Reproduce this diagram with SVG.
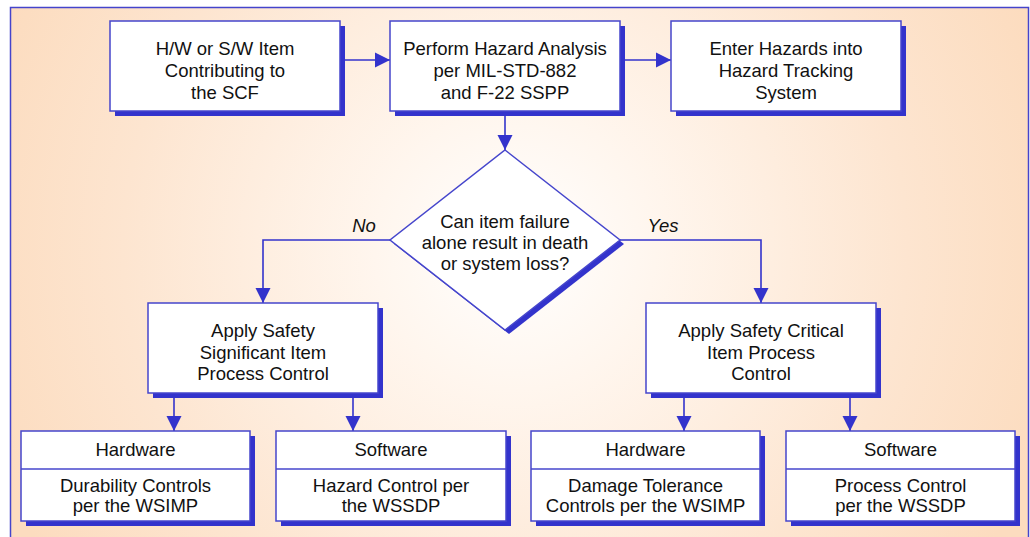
<svg xmlns="http://www.w3.org/2000/svg" width="1030" height="537" viewBox="0 0 1030 537">
<defs>
<radialGradient id="bg" gradientUnits="userSpaceOnUse" cx="515" cy="250" r="560">
<stop offset="0" stop-color="#ffffff"/>
<stop offset="0.25" stop-color="#fff6ee"/>
<stop offset="0.7" stop-color="#fde5d0"/>
<stop offset="1" stop-color="#fcdcbf"/>
</radialGradient>
<marker id="ah" markerUnits="userSpaceOnUse" markerWidth="16" markerHeight="16" viewBox="0 0 16 16" refX="15" refY="8" orient="auto">
<path d="M0,0.5 L15,8 L0,15.5 Z" fill="#3333cc"/>
</marker>
<style>
.box{fill:#ffffff;stroke:#4646cc;stroke-width:1.5}
.sh{fill:#3333cc}
.t{font-family:"Liberation Sans",Arial,sans-serif;font-size:18.5px;fill:#111111;text-anchor:middle}
.it{font-style:italic}
.c{fill:none;stroke:#3333cc;stroke-width:1.6}
.div{stroke:#4646cc;stroke-width:1.5}
</style>
</defs>
<rect x="10.5" y="7.5" width="1018" height="540" fill="url(#bg)" stroke="#4444cc" stroke-width="1.5"/>

<g id="connectors">
<line class="c" x1="340" y1="60" x2="390" y2="60" marker-end="url(#ah)"/>
<line class="c" x1="620" y1="60" x2="671" y2="60" marker-end="url(#ah)"/>
<line class="c" x1="505" y1="111" x2="505" y2="150" marker-end="url(#ah)"/>
<polyline class="c" points="391,240 263,240 263,303" marker-end="url(#ah)"/>
<polyline class="c" points="620,240 761,240 761,303" marker-end="url(#ah)"/>
<line class="c" x1="174" y1="393" x2="174" y2="431" marker-end="url(#ah)"/>
<line class="c" x1="353" y1="393" x2="353" y2="431" marker-end="url(#ah)"/>
<line class="c" x1="684" y1="393" x2="684" y2="431" marker-end="url(#ah)"/>
<line class="c" x1="850" y1="393" x2="850" y2="431" marker-end="url(#ah)"/>
<text class="t it" x="364" y="232">No</text>
<text class="t it" x="663" y="232">Yes</text>
</g>

<g id="item">
<rect class="sh" x="115" y="26" width="230" height="90"/>
<rect class="box" x="110" y="21" width="230" height="90"/>
<text class="t" x="225" y="55">H/W or S/W Item</text>
<text class="t" x="225" y="77">Contributing to</text>
<text class="t" x="225" y="99">the SCF</text>
</g>

<g id="analysis">
<rect class="sh" x="395" y="26" width="230" height="90"/>
<rect class="box" x="390" y="21" width="230" height="90"/>
<text class="t" x="505" y="55">Perform Hazard Analysis</text>
<text class="t" x="505" y="77">per MIL-STD-882</text>
<text class="t" x="505" y="99">and F-22 SSPP</text>
</g>

<g id="tracking">
<rect class="sh" x="676" y="26" width="230" height="90"/>
<rect class="box" x="671" y="21" width="230" height="90"/>
<text class="t" x="786" y="55">Enter Hazards into</text>
<text class="t" x="786" y="77">Hazard Tracking</text>
<text class="t" x="786" y="99">System</text>
</g>

<g id="decision">
<polygon class="sh" points="509,154 624,244 509,334 394,244"/>
<polygon class="box" points="505,150 620,240 505,330 390,240"/>
<text class="t" x="505" y="228">Can item failure</text>
<text class="t" x="505" y="249">alone result in death</text>
<text class="t" x="505" y="270">or system loss?</text>
</g>

<g id="significant">
<rect class="sh" x="153" y="308" width="230" height="90"/>
<rect class="box" x="148" y="303" width="230" height="90"/>
<text class="t" x="263" y="337">Apply Safety</text>
<text class="t" x="263" y="359">Significant Item</text>
<text class="t" x="263" y="380">Process Control</text>
</g>

<g id="critical">
<rect class="sh" x="651" y="308" width="230" height="90"/>
<rect class="box" x="646" y="303" width="230" height="90"/>
<text class="t" x="761" y="337">Apply Safety Critical</text>
<text class="t" x="761" y="359">Item Process</text>
<text class="t" x="761" y="380">Control</text>
</g>

<g id="hw1">
<rect class="sh" x="26" y="436" width="229" height="90"/>
<rect class="box" x="21" y="431" width="229" height="90"/>
<line class="div" x1="21" y1="469" x2="250" y2="469"/>
<text class="t" x="135.5" y="456">Hardware</text>
<text class="t" x="135.5" y="492">Durability Controls</text>
<text class="t" x="135.5" y="512">per the WSIMP</text>
</g>

<g id="sw1">
<rect class="sh" x="281" y="436" width="230" height="90"/>
<rect class="box" x="276" y="431" width="230" height="90"/>
<line class="div" x1="276" y1="469" x2="506" y2="469"/>
<text class="t" x="391" y="456">Software</text>
<text class="t" x="391" y="492">Hazard Control per</text>
<text class="t" x="391" y="512">the WSSDP</text>
</g>

<g id="hw2">
<rect class="sh" x="536" y="436" width="229" height="90"/>
<rect class="box" x="531" y="431" width="229" height="90"/>
<line class="div" x1="531" y1="469" x2="760" y2="469"/>
<text class="t" x="645.5" y="456">Hardware</text>
<text class="t" x="645.5" y="492">Damage Tolerance</text>
<text class="t" x="645.5" y="512">Controls per the WSIMP</text>
</g>

<g id="sw2">
<rect class="sh" x="791" y="436" width="229" height="90"/>
<rect class="box" x="786" y="431" width="229" height="90"/>
<line class="div" x1="786" y1="469" x2="1015" y2="469"/>
<text class="t" x="900.5" y="456">Software</text>
<text class="t" x="900.5" y="492">Process Control</text>
<text class="t" x="900.5" y="512">per the WSSDP</text>
</g>
</svg>
